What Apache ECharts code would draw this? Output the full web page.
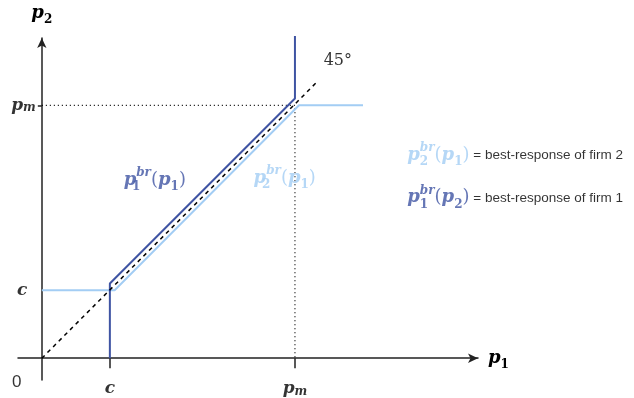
<!DOCTYPE html>
<html><head><meta charset="utf-8">
<script src="https://cdn.jsdelivr.net/npm/echarts@6/dist/echarts.min.js"></script>
<style>html,body{margin:0;padding:0;background:#fff}#c{width:634px;height:398px}</style>
</head><body><div id="c"></div>
<script>
// ---- data ----
const C = 1.0;
const PM = 3.72;
const diagonal45 = [[0, 0], [4.04, 4.06]];
const guideLines = [[0, 3.72], [3.72, 3.72], [3.72, 0]];
const bestResponse2 = [[0, 1.0], [1.07, 1.0], [3.78, 3.72], [4.72, 3.72]];
const bestResponse1 = [[1.0, 0], [1.0, 1.1], [3.72, 3.82], [3.72, 4.74]];
const xTickValues = [1.0, 3.72];
const yTickValues = [3.72];
const annotations = [
  { name: 'zero', value: [-0.37, -0.35] },
  { name: 'xc', value: [1.0, -0.44] },
  { name: 'xpm', value: [3.72, -0.45] },
  { name: 'yc', value: [-0.29, 1.0] },
  { name: 'ypm', value: [-0.27, 3.72] },
  { name: 'deg', value: [4.35, 4.38] },
  { name: 'br1', value: [1.66, 2.62] },
  { name: 'br2', value: [3.57, 2.65] },
  { name: 'leg2', value: [5.37, 2.99] },
  { name: 'leg1', value: [5.37, 2.36] }
];

const DARK = '#3f54a3', LIGHT = '#a3cdf4';
const SERIF = 'DejaVu Serif';
function mathRich(color) {
  const lh = 26;
  return {
    p: { fontFamily: SERIF, fontStyle: 'italic', fontWeight: 'bold', fontSize: 18, color: color, lineHeight: lh },
    q: { fontFamily: SERIF, fontSize: 18, color: color, lineHeight: lh },
    sb: { fontFamily: SERIF, fontWeight: 'bold', fontSize: 12, color: color, lineHeight: 12, verticalAlign: 'bottom', width: 0 },
    s: { fontFamily: SERIF, fontWeight: 'bold', fontSize: 12, color: color, lineHeight: 12, verticalAlign: 'bottom' },
    sp: { fontFamily: SERIF, fontStyle: 'italic', fontWeight: 'bold', fontSize: 12, color: color, lineHeight: 12, verticalAlign: 'top' },
    P: { fontFamily: SERIF, fontStyle: 'italic', fontWeight: 'bold', fontSize: 17, color: color, lineHeight: 18 },
    M: { fontFamily: SERIF, fontStyle: 'italic', fontWeight: 'bold', fontSize: 12, color: color, lineHeight: 8, verticalAlign: 'bottom', padding: [10, 0, 0, 0] },
    t: { fontFamily: 'Liberation Sans', fontSize: 13.5, color: '#000', lineHeight: lh },
    d: { fontFamily: SERIF, fontSize: 16, color: '#000', lineHeight: lh },
    z: { fontFamily: 'Liberation Sans', fontSize: 17, color: '#000', lineHeight: lh }
  };
}
function brText(i, j) {
  return '{p|p}{sb|' + i + '}{sp|br}{q|(}{p|p}{s|' + j + '}{q|)}';
}
const labelCfg = {
  zero: { text: '{z|0}', color: '#000', position: 'inside' },
  xc: { text: '{P|c}', color: '#000', position: 'inside' },
  xpm: { text: '{P|p}{M|m}', color: '#000', position: 'inside' },
  yc: { text: '{P|c}', color: '#000', position: 'inside' },
  ypm: { text: '{P|p}{M|m}', color: '#000', position: 'inside' },
  deg: { text: '{d|45°}', color: '#000', position: 'inside' },
  br1: { text: brText(1, 1), color: DARK, position: 'inside' },
  br2: { text: brText(2, 1), color: LIGHT, position: 'inside' },
  leg2: { text: brText(2, 1) + '{t| = best-response of firm 2}', color: LIGHT, position: 'right' },
  leg1: { text: brText(1, 2) + '{t| = best-response of firm 1}', color: DARK, position: 'right' }
};

const lineStyleBase = { type: 'line', symbol: 'none', clip: false, silent: true, animation: false };

const option = {
  animation: false,
  grid: { left: 18, right: 156, top: 38, bottom: 18, containLabel: false, outerBoundsMode: 'none' },
  xAxis: {
    type: 'value', min: -0.35, max: 6.41,
    splitLine: { show: false },
    axisLine: { onZero: true, lineStyle: { color: '#222', width: 1.5 }, symbol: ['none', 'arrow'], symbolSize: [7, 10] },
    axisTick: { show: true, customValues: xTickValues, length: 10, lineStyle: { color: '#222', width: 1.5 } },
    axisLabel: { show: false },
    name: '{p|p}{s|1}', nameLocation: 'end', nameGap: 10,
    nameTextStyle: { rich: mathRich('#000'), align: 'left' }
  },
  yAxis: {
    type: 'value', min: -0.32, max: 4.71,
    splitLine: { show: false },
    axisLine: { onZero: true, lineStyle: { color: '#222', width: 1.5 }, symbol: ['none', 'arrow'], symbolSize: [7, 10] },
    axisTick: { show: true, customValues: yTickValues, length: 4, lineStyle: { color: '#222', width: 1.5 } },
    axisLabel: { show: false },
    name: '{p|p}{s|2}', nameLocation: 'end', nameGap: 12,
    nameTextStyle: { rich: mathRich('#000'), align: 'center' }
  },
  series: [
    Object.assign({}, lineStyleBase, { data: guideLines, lineStyle: { color: '#000', width: 1.2, type: [1, 3] }, z: 1 }),
    Object.assign({}, lineStyleBase, { data: bestResponse2, lineStyle: { color: LIGHT, width: 2 }, z: 2 }),
    Object.assign({}, lineStyleBase, { data: bestResponse1, lineStyle: { color: DARK, width: 2 }, z: 3 }),
    Object.assign({}, lineStyleBase, { data: diagonal45, lineStyle: { color: '#000', width: 1.5, type: [4, 4] }, z: 4 }),
    {
      type: 'scatter', clip: false, silent: true, animation: false, symbolSize: 0.1,
      itemStyle: { color: 'rgba(0,0,0,0)' },
      data: annotations.map(a => ({
        value: a.value,
        label: {
          show: true, position: labelCfg[a.name].position, distance: 0,
          formatter: labelCfg[a.name].text, rich: mathRich(labelCfg[a.name].color)
        }
      }))
    }
  ]
};
const chart = echarts.init(document.getElementById('c'), null, { renderer: 'canvas' });
chart.setOption(option);
</script>
</body></html>
